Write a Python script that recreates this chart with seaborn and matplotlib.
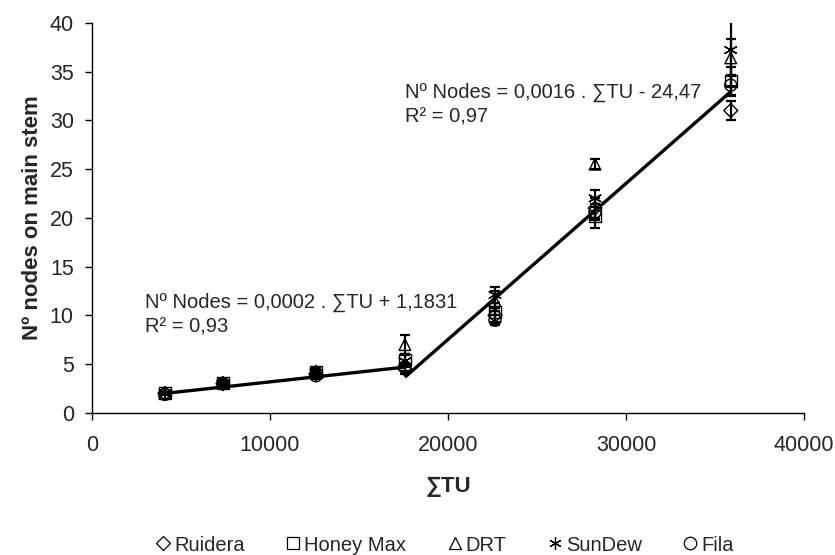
import matplotlib
matplotlib.use("Agg")
import matplotlib.pyplot as plt
from matplotlib.lines import Line2D
import seaborn as sns
import pandas as pd
import numpy as np

# ---- data ----
tu = [4100, 7360, 12580, 17580, 22640, 28260, 35880]
cultivars = ["Ruidera", "Honey Max", "DRT", "SunDew", "Fila"]
ruidera = [2.0, 3.0, 4.0, 4.5, 10.0, 21.0, 31.0]
ruidera_err = [0.1, 0.1, 0.3, 0.5, 0.8, 1.0, 1.0]
honey_max = [2.0, 3.1, 4.2, 5.4, 10.3, 20.2, 34.0]
honey_max_err = [0.1, 0.2, 0.3, 0.6, 1.0, 1.2, 1.5]
drt = [2.0, 3.1, 4.3, 7.0, 11.5, 25.5, 36.4]
drt_err = [0.1, 0.1, 0.3, 1.0, 1.0, 0.5, 1.9]
sundew = [2.0, 3.0, 4.1, 5.3, 12.1, 22.0, 37.2]
sundew_err = [0.1, 0.1, 0.4, 0.6, 0.8, 0.9, 3.7]
fila = [1.9, 3.0, 3.8, 4.7, 9.5, 20.6, 33.6]
fila_err = [0.1, 0.1, 0.3, 0.4, 0.5, 0.8, 1.0]

# trend lines: (slope, intercept, x range)
fit1_slope, fit1_icpt, fit1_x = 0.0002, 1.1831, [4100, 17580]
fit2_slope, fit2_icpt, fit2_x = 0.0016, -24.47, [17580, 35880]
eq1 = ["Nº Nodes = 0,0002 . ∑TU + 1,1831", "R² = 0,93"]
eq2 = ["Nº Nodes = 0,0016 . ∑TU - 24,47", "R² = 0,97"]

x_ticks = [0, 10000, 20000, 30000, 40000]
y_ticks = [0, 5, 10, 15, 20, 25, 30, 35, 40]

# ---- style ----
sns.set_theme(style="white")
plt.rcParams["font.family"] = ["Liberation Sans", "DejaVu Sans"]

values = [ruidera, honey_max, drt, sundew, fila]
errors = [ruidera_err, honey_max_err, drt_err, sundew_err, fila_err]
rows = []
for name, v, e in zip(cultivars, values, errors):
    for xi, yi, ei in zip(tu, v, e):
        rows.append({"TU": xi, "nodes": yi, "err": ei, "cultivar": name})
df = pd.DataFrame(rows)

markers = {"Ruidera": "D", "Honey Max": "s", "DRT": "^", "SunDew": (6, 2, 0), "Fila": "o"}
sizes = {"Ruidera": 50, "Honey Max": 75, "DRT": 70, "SunDew": 90, "Fila": 75}

fig = plt.figure(figsize=(8.35, 5.55), dpi=100)
ax = fig.add_axes([0.110, 0.256, 0.853, 0.703])

# error bars
for name in cultivars:
    d = df[df.cultivar == name]
    ax.errorbar(d.TU, d.nodes, yerr=d.err, fmt="none", ecolor="black",
                elinewidth=1.6, capsize=3.5, capthick=1.6, zorder=2)

# trend lines
x1 = np.array(fit1_x)
x2 = np.array(fit2_x)
ax.plot(x1, fit1_slope * x1 + fit1_icpt, color="black", lw=2.4, zorder=3,
        solid_capstyle="butt")
ax.plot(x2, fit2_slope * x2 + fit2_icpt, color="black", lw=2.4, zorder=3,
        solid_capstyle="butt")

# markers
for name in cultivars:
    d = df[df.cultivar == name]
    sns.scatterplot(data=d, x="TU", y="nodes", marker=markers[name],
                    s=sizes[name], ax=ax, color="black", legend=False, zorder=4)
for coll in ax.collections:
    if coll.__class__.__name__ == "PathCollection":
        coll.set_facecolor("none")
        coll.set_edgecolor("black")
        coll.set_linewidth(1.0)

# equations
fs_eq = 14.5
ax.text(3000, 10.76, eq1[0], fontsize=fs_eq, ha="left", va="baseline")
ax.text(3000, 8.20, eq1[1], fontsize=fs_eq, ha="left", va="baseline")
ax.text(17580, 32.3, eq2[0], fontsize=fs_eq, ha="left", va="baseline")
ax.text(17580, 29.75, eq2[1], fontsize=fs_eq, ha="left", va="baseline")

ax.set_xlim(0, 40000)
ax.set_ylim(0, 40)
ax.set_xticks(x_ticks)
ax.set_yticks(y_ticks)
ax.tick_params(axis="both", labelsize=15.5, length=5, width=1, color="black",
               direction="out", bottom=True, left=True)
ax.tick_params(axis="x", pad=11)
ax.tick_params(axis="y", pad=8)
for side in ["top", "right"]:
    ax.spines[side].set_visible(False)
for side in ["left", "bottom"]:
    ax.spines[side].set_color("black")
    ax.spines[side].set_linewidth(1.0)

ax.set_xlabel("∑TU", fontsize=16, fontweight="bold", labelpad=14)
ax.set_ylabel("Nº nodes on main stem", fontsize=16, fontweight="bold", labelpad=5)

handles = [Line2D([], [], linestyle="none", marker=markers[n], markersize=9 if n != "Ruidera" else 7.5,
                  markerfacecolor="none", markeredgecolor="black", markeredgewidth=0.9)
           for n in cultivars]
fig.legend(handles, cultivars, loc="center", bbox_to_anchor=(0.531, 0.018), ncol=5,
           frameon=False, fontsize=14.5, handletextpad=0.05, columnspacing=1.9,
           handlelength=1.0, borderpad=0.0)

fig.savefig("out.png", dpi=100)
